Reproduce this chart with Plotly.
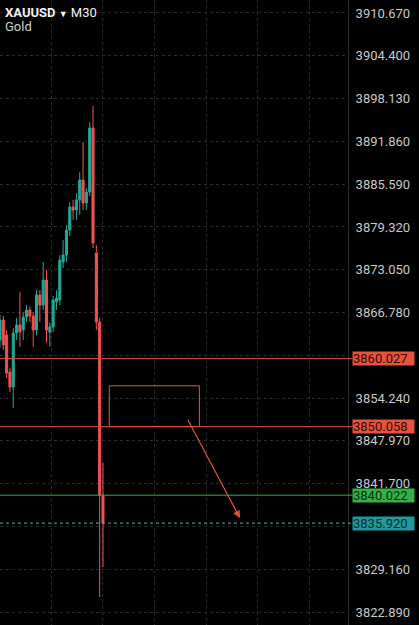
import plotly.graph_objects as go

# XAUUSD M30 candles, index 30 is the live candle
idx = list(range(-1, 31))
opens = [3862.75, 3865.68, 3863.48, 3858.06, 3855.86, 3863.78, 3864.95, 3864.22,
         3866.12, 3867.15, 3866.27, 3864.22, 3869.35, 3867.88, 3871.54, 3863.92,
         3864.66, 3868.32, 3868.61, 3874.18, 3875.21, 3878.87, 3882.24, 3881.80,
         3883.27, 3886.20, 3882.83, 3884.44, 3893.82, 3875.50, 3865.39, 3840.02]
highs = [3866.41, 3866.27, 3864.22, 3858.65, 3864.51, 3865.98, 3869.79, 3866.85,
         3867.88, 3867.73, 3866.85, 3870.08, 3870.08, 3874.18, 3873.01, 3865.39,
         3869.20, 3870.08, 3875.21, 3877.41, 3879.60, 3882.97, 3883.27, 3884.29,
         3887.37, 3891.77, 3885.03, 3894.70, 3897.04, 3876.67, 3865.98, 3844.73]
lows = [3861.58, 3861.29, 3857.18, 3855.13, 3852.79, 3862.75, 3861.73, 3862.75,
        3865.39, 3865.39, 3861.73, 3863.48, 3865.39, 3867.15, 3862.31, 3861.73,
        3863.92, 3867.15, 3867.88, 3873.30, 3874.18, 3877.99, 3880.34, 3880.34,
        3881.07, 3881.80, 3881.80, 3883.85, 3876.23, 3864.22, 3825.09, 3829.49]
closes = [3865.68, 3862.02, 3857.92, 3855.86, 3863.78, 3864.95, 3863.92, 3866.12,
          3867.15, 3866.27, 3864.22, 3869.35, 3867.88, 3871.54, 3864.22, 3864.66,
          3868.61, 3868.91, 3874.47, 3875.21, 3878.87, 3882.24, 3881.80, 3883.27,
          3886.20, 3882.83, 3884.44, 3893.82, 3876.97, 3865.39, 3840.02, 3835.92]

# right price scale; two of the labels sit under the level tags
price_ticks = [3910.67 - 6.27 * k for k in range(15)]
hidden_ticks = {8, 12}
tick_text = ["" if k in hidden_ticks else f"{p:.3f}" for k, p in enumerate(price_ticks)]

# marked levels: (price, line colour, label colour, label text colour, dash)
levels = [
    (3860.027, "#e5533d", "#e5533d", "#3b0904", "solid"),
    (3850.058, "#e5533d", "#e5533d", "#3b0904", "solid"),
    (3840.022, "#34b04a", "#34b04a", "#07300f", "solid"),
    (3835.920, "#4fb3b3", "#1e9a9c", "#062c2e", "3px,3px"),
]

RED = "#ef5350"
GREEN = "#22a99a"
GRID = "#2a2a2a"

fig = go.Figure()
fig.add_trace(go.Candlestick(
    x=idx, open=opens, high=highs, low=lows, close=closes,
    increasing=dict(line=dict(color=GREEN, width=1), fillcolor=GREEN),
    decreasing=dict(line=dict(color=RED, width=1), fillcolor=RED),
    whiskerwidth=0, hoverinfo="skip", showlegend=False,
))

for price, lc, bg, tc, dash in levels:
    fig.add_shape(type="line", xref="paper", yref="y", x0=0, x1=1.012,
                  y0=price, y1=price, line=dict(color=lc, width=1, dash=dash))
    fig.add_annotation(xref="paper", yref="y", x=1.011, y=price, xanchor="left",
                       yanchor="middle", text=f"{price:.3f}", showarrow=False,
                       bgcolor=bg, borderpad=0, width=61, height=13, align="left",
                       valign="middle",
                       font=dict(family="Roboto", size=13, color=tc))

# drawn box and arrow
fig.add_shape(type="rect", xref="x", yref="y", x0=31.9, x1=59.0,
              y0=3850.06, y1=3856.05, line=dict(color="#e5533d", width=1),
              fillcolor="rgba(0,0,0,0)")
fig.add_annotation(xref="x", yref="y", axref="x", ayref="y",
                   x=71.2, y=3836.67, ax=55.3, ay=3851.28, text="",
                   showarrow=True, arrowhead=2, arrowsize=1.2, arrowwidth=1.2,
                   arrowcolor="#e5533d")

# symbol header
fig.add_annotation(xref="paper", yref="paper", x=0.008, y=1.0, xanchor="left",
                   yanchor="top", showarrow=False, align="left",
                   text="<b>XAUUSD</b> <span style='font-size:9px'>▼</span> M30",
                   font=dict(family="Roboto", size=13, color="#f2f2f2"), yshift=-3)
fig.add_annotation(xref="paper", yref="paper", x=0.008, y=1.0, xanchor="left",
                   yanchor="top", showarrow=False, text="Gold",
                   font=dict(family="Roboto", size=13, color="#cfcfcf"), yshift=-17)

fig.update_xaxes(range=[-0.993, 103.73], showticklabels=False, zeroline=False,
                 showgrid=True, gridcolor=GRID, griddash="3px,3px", gridwidth=1,
                 tick0=30, dtick=15.5, rangeslider_visible=False, fixedrange=True)
fig.update_yaxes(side="right", range=[3821.0, 3912.57], tickvals=price_ticks,
                 ticktext=tick_text, ticks="",
                 ticklabelstandoff=4, showgrid=True, gridcolor=GRID,
                 griddash="3px,3px", gridwidth=1, zeroline=False,
                 showline=True, linecolor="#2e2e2e", linewidth=1,
                 tickfont=dict(family="Roboto", size=13, color="#c9c9c9"))

fig.update_layout(
    width=419, height=625,
    margin=dict(l=0, r=71, t=0, b=0),
    paper_bgcolor="#000000", plot_bgcolor="#000000",
    boxgap=0.12, showlegend=False,
)

# page body margin would shift the chart by 8px
fig.write_html("out.html", config={"displayModeBar": False},
               post_script="document.body.style.margin='0';"
               "document.body.style.background='#000';")
